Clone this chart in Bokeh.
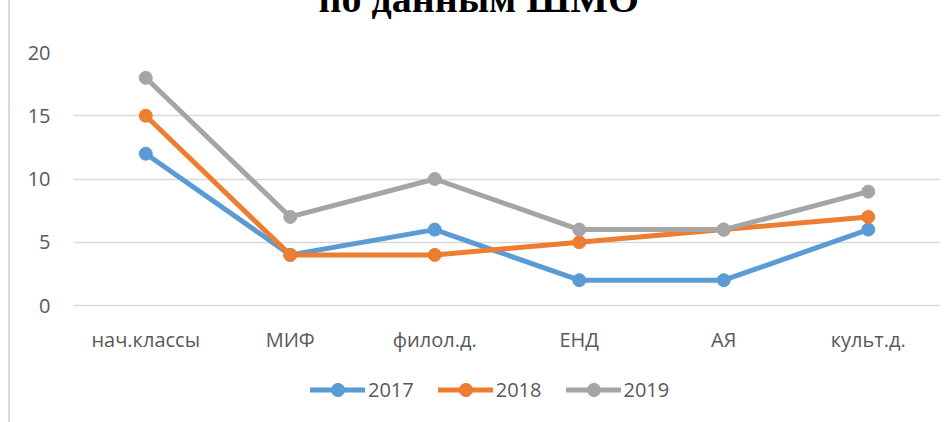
from bokeh.plotting import figure
from bokeh.models import FactorRange, Range1d, FixedTicker, Legend, LegendItem
from bokeh.embed import file_html
from bokeh.resources import INLINE

categories = ["нач.классы", "МИФ", "филол.д.", "ЕНД", "АЯ", "культ.д."]
series_names = ["2017", "2018", "2019"]
values_2017 = [12, 4, 6, 2, 2, 6]
values_2018 = [15, 4, 4, 5, 6, 7]
values_2019 = [18, 7, 10, 6, 6, 9]
y_ticks = [0, 5, 10, 15, 20]
title_text = "по данным ШМО"
colors = ["#5B9BD5", "#ED7D31", "#A5A5A5"]

W, H = 935, 492
FONT = "Open Sans"
TXT = "#595959"

# plot area: value 20 at top of frame, value 0 at 253 px below it;
# the frame continues below 0 to hold the category labels and the legend
PX_PER_UNIT = 253 / 20
Y_MIN = -115 / PX_PER_UNIT

p = figure(x_range=FactorRange(*categories, range_padding=0),
           y_range=Range1d(Y_MIN, 20),
           width=W, height=H, output_backend="svg", toolbar_location=None,
           min_border_left=63, min_border_right=5, min_border_top=122, min_border_bottom=2)
p.margin = (-70, 0, 0, 8)
p.styles = {"border-left": "2px solid #D9D9D9"}
p.outline_line_color = None
p.background_fill_color = "white"
p.border_fill_color = "white"

p.title.text = title_text
p.title.text_font = "Liberation Serif"
p.title.text_font_style = "bold"
p.title.text_font_size = "40px"
p.title.text_color = "black"
p.title.align = "left"
p.title.offset = 245
p.title.standoff = 63

p.xgrid.visible = False
p.ygrid.grid_line_color = "#D9D9D9"
p.ygrid.grid_line_width = 1.5
p.yaxis.ticker = FixedTicker(ticks=y_ticks)
p.xaxis.fixed_location = 0

for ax in (p.xaxis[0], p.yaxis[0]):
    ax.axis_line_color = None
    ax.major_tick_line_color = None
    ax.minor_tick_line_color = None
    ax.major_tick_in = 0
    ax.major_tick_out = 0
    ax.major_label_text_font = FONT
    ax.major_label_text_font_size = "20px"
    ax.major_label_text_color = TXT
p.yaxis.major_label_standoff = 23
p.xaxis.major_label_standoff = 20

items = []
for name, vals, col in zip(series_names, [values_2017, values_2018, values_2019], colors):
    lr = p.line(x=categories, y=vals, line_color=col, line_width=5, line_cap="round", line_join="round")
    sr = p.scatter(x=categories, y=vals, size=13, fill_color=col, line_color=col)
    items.append(LegendItem(label=name, renderers=[lr, sr]))

legend = Legend(items=items, orientation="horizontal", location=(237, 14),
                border_line_color=None, background_fill_alpha=0,
                glyph_width=55, glyph_height=33, label_standoff=3, spacing=24,
                padding=0, margin=0,
                label_text_font=FONT, label_text_font_size="20px", label_text_color=TXT)
p.add_layout(legend)

open("out.html", "w").write(file_html(p, INLINE))
